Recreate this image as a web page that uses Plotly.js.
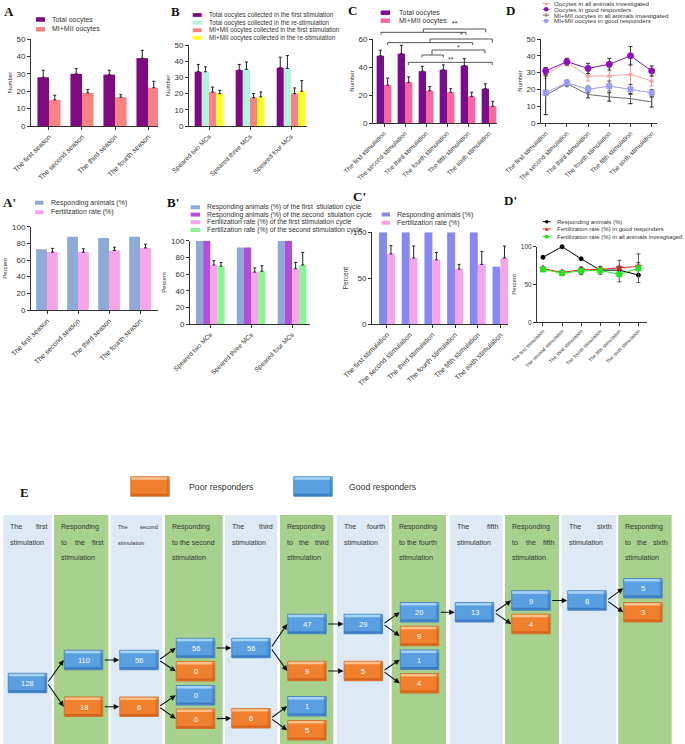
<!DOCTYPE html>
<html><head><meta charset="utf-8">
<script src="https://cdn.plot.ly/plotly-3.0.1.min.js"></script>
<style>html,body{margin:0;padding:0;background:#fff}#chart{width:685px;height:744px}</style>
</head><body><div id="chart"></div>
<script>
// ================= DATA =================
const seasons = ['The first season','The second season','The third season','The fourth season'];
const mcGroups = ['Speared two MCs','Speared three MCs','Speared four MCs'];
const stims = ['The first stimulation','The second stimulation','The third stimulation','The fourth stimulation','The fifth stimulation','The sixth stimulation'];

// Panel A
const aTotal = [28, 30, 29.5, 39];
const aTotalErr = [4, 3, 2.5, 4.5];
const aMII = [15, 19, 16.5, 22];
const aMIIErr = [2.7, 2, 1.5, 3.7];
// Panel B
const bTotal1 = [33.5, 34.5, 36];
const bTotal1Err = [4.5, 3.5, 6.5];
const bTotal2 = [33.5, 35, 35.5];
const bTotal2Err = [3, 4.5, 8];
const bMII1 = [21, 17.5, 20];
const bMII1Err = [3, 2.5, 3.5];
const bMII2 = [20, 18, 21.5];
const bMII2Err = [2, 3, 6.5];
// Panel C
const cTotal = [48, 49.5, 37, 38, 41, 24.5];
const cTotalErr = [4, 6, 3.5, 3.5, 5, 3.5];
const cMII = [27, 29, 23, 22, 19, 12];
const cMIIErr = [5, 4, 3, 2.5, 3, 3.5];
// Panel D
const dOocAll = [29, 36, 28, 28, 29, 25];
const dOocAllErr = [2.5, 2, 3, 5, 6, 3];
const dOocGood = [31, 36.5, 32.5, 35, 40, 31];
const dOocGoodErr = [2, 2, 3, 3.5, 5.5, 3];
const dMIIAll = [16.5, 23.5, 17, 15.5, 14.5, 12.5];
const dMIIAllErr = [11.5, 1.5, 2, 2.5, 3, 3];
const dMIIGood = [18, 24, 20, 22, 20, 18];
const dMIIGoodErr = [1.5, 1.5, 2, 3, 3, 2];
// Panel A'
const apResp = [73, 88, 86.5, 88];
const apFert = [69.5, 69.5, 71.5, 74.5];
const apFertErr = [4.5, 4, 4, 4.5];
// Panel B'
const bpResp1 = [100, 92, 100];
const bpResp2 = [100, 92, 100];
const bpFert1 = [71, 62.5, 66.5];
const bpFert1Err = [5, 5, 7.5];
const bpFert2 = [69.5, 63.5, 71];
const bpFert2Err = [4.5, 6.5, 15];
// Panel C'
const cpResp = [100, 100, 100, 100, 100, 62.5];
const cpFert = [76.5, 72, 70, 60, 65, 72];
const cpFertErr = [9, 13, 8, 5, 14, 13];
// Panel D'
const dpResp = [86, 100, 84, 69, 69, 62.5];
const dpFertGood = [71, 66, 69.5, 70, 72, 74];
const dpFertGoodErr = [2, 2, 3, 4, 10, 5];
const dpFertAll = [70, 65, 68, 68.5, 63.5, 71.5];
const dpFertAllErr = [3, 3, 5, 5, 10, 19];

// Panel E (flow of animals)
const flowValues = [128, 110, 18, 56, 6, 56, 0, 0, 6, 56, 6, 47, 9, 1, 5, 29, 5, 20, 9, 1, 4, 13, 9, 4, 8, 5, 3];
const flowTypes  = ['g','g','p','g','p','g','p','g','p','g','p','g','p','g','p','g','p','g','p','g','p','g','g','p','g','g','p'];
const flowLinks = [[0,1],[0,2],[1,3],[2,4],[3,5],[3,6],[4,7],[4,8],[5,9],[8,10],[9,11],[9,12],[10,13],[10,14],
                   [11,15],[12,16],[15,17],[15,18],[16,19],[16,20],[17,21],[21,22],[21,23],[22,24],[24,25],[24,26]];
const colHeaders = [
  ['The first','stimulation'], ['Responding','to the first','stimulation'],
  ['The second','stimulation'], ['Responding','to the second','stimulation'],
  ['The third','stimulation'], ['Responding','to the third','stimulation'],
  ['The fourth','stimulation'], ['Responding','to the fourth','stimulation'],
  ['The fifth','stimulation'], ['Responding','to the fifth','stimulation'],
  ['The sixth','stimulation'], ['Responding','to the sixth','stimulation']
];
const naturalLines = ['to the second', 'to the fourth'];

// ================= LAYOUT HELPERS =================
const W = 685, H = 744;
const F = 'Liberation Sans, Arial, sans-serif';
const FS = 'Liberation Serif, Times New Roman, serif';
const px = x => x / W, py = y => 1 - y / H;
const TXT = '#333';
const measureCtx = document.createElement('canvas').getContext('2d');
function textWidth(s, size) { measureCtx.font = size + 'px "Liberation Sans", Arial, sans-serif'; return measureCtx.measureText(s).width; }

const AX = {showline:true, linecolor:'#333', linewidth:1, ticks:'outside', ticklen:3, tickwidth:1, tickcolor:'#333',
  showgrid:false, zeroline:false, fixedrange:true, automargin:false};
function xAxis(x0, x1, range, anchor, fs) {
  return Object.assign({}, AX, {domain:[px(x0), px(x1)], range, type:'category', tickangle:-45,
    tickfont:{family:F, size:fs, color:TXT}, anchor});
}
function yAxis(top, bottom, range, dtick, title, anchor, fs, tfs) {
  return Object.assign({}, AX, {domain:[py(bottom), py(top)], range, dtick, tick0:0,
    tickfont:{family:F, size:fs, color:TXT},
    title:{text:title, font:{family:F, size:tfs, color:TXT}, standoff:3}, anchor});
}

const traces = [];
function bar(x, y, err, color, xa, ya) {
  const t = {type:'bar', x, y, xaxis:xa, yaxis:ya, marker:{color, line:{width:0}}, showlegend:false, hoverinfo:'skip'};
  if (err) t.error_y = {type:'data', symmetric:false, array:err, arrayminus:err.map(() => 0), color:'#222', thickness:1, width:1.5};
  traces.push(t);
}
function line(x, y, err, color, symbol, size, xa, ya, errColor) {
  const t = {type:'scatter', mode:'lines+markers', x, y, xaxis:xa, yaxis:ya, line:{color, width:1},
    marker:{color, symbol, size, line:{color, width:1}}, showlegend:false, hoverinfo:'skip', cliponaxis:false};
  if (err) t.error_y = {type:'data', array:err, color:errColor || color, thickness:1, width:2};
  traces.push(t);
}

// ----- charts -----
const PURPLE = '#7F0A80', SALMON = '#F98282';
bar(seasons, aTotal, aTotalErr, PURPLE, 'x', 'y');
bar(seasons, aMII, aMIIErr, SALMON, 'x', 'y');

bar(mcGroups, bTotal1, bTotal1Err, PURPLE, 'x2', 'y2');
bar(mcGroups, bTotal2, bTotal2Err, '#B2F4E0', 'x2', 'y2');
bar(mcGroups, bMII1, bMII1Err, SALMON, 'x2', 'y2');
bar(mcGroups, bMII2, bMII2Err, '#FFFF22', 'x2', 'y2');

bar(stims, cTotal, cTotalErr, '#7A0C8E', 'x3', 'y3');
bar(stims, cMII, cMIIErr, '#F5689E', 'x3', 'y3');

line(stims, dOocAll, dOocAllErr, '#F4A3A3', 'triangle-up', 4, 'x4', 'y4', '#E89090');
line(stims, dOocGood, dOocGoodErr, '#8A12B8', 'circle', 6, 'x4', 'y4', '#333');
line(stims, dMIIAll, dMIIAllErr, '#6E6E6E', 'line-ns-open', 6, 'x4', 'y4', '#222');
line(stims, dMIIGood, dMIIGoodErr, '#9C9CF2', 'square', 5, 'x4', 'y4', '#555');

bar(seasons, apResp, null, '#8FAAD6', 'x5', 'y5');
bar(seasons, apFert, apFertErr, '#F6A6E8', 'x5', 'y5');

bar(mcGroups, bpResp1, null, '#8FAAD6', 'x6', 'y6');
bar(mcGroups, bpResp2, null, '#B14FDC', 'x6', 'y6');
bar(mcGroups, bpFert1, bpFert1Err, '#F6A6E8', 'x6', 'y6');
bar(mcGroups, bpFert2, bpFert2Err, '#8EF296', 'x6', 'y6');

bar(stims, cpResp, null, '#8888F2', 'x7', 'y7');
bar(stims, cpFert, cpFertErr, '#F6A6E8', 'x7', 'y7');

line(stims, dpResp, null, '#000000', 'circle', 4, 'x8', 'y8');
line(stims, dpFertGood, dpFertGoodErr, '#E52222', 'star', 5, 'x8', 'y8', '#555');
line(stims, dpFertAll, dpFertAllErr, '#22E522', 'square', 5, 'x8', 'y8', '#555');

// ----- shapes & annotations -----
const shapes = [], annotations = [];
function rect(x0, y0, x1, y1, color, lineColor, lw) {
  shapes.push({type:'rect', xref:'paper', yref:'paper', x0:px(x0), x1:px(x1), y0:py(y1), y1:py(y0),
    fillcolor:color, line:{width:lw || 0, color:lineColor || color}, layer:'below'});
}
function seg(x0, y0, x1, y1, color, w) {
  shapes.push({type:'line', xref:'paper', yref:'paper', x0:px(x0), x1:px(x1), y0:py(y0), y1:py(y1),
    line:{color:color || '#333', width:w || 1}});
}
function txt(x, y, text, size, opts) {
  annotations.push(Object.assign({xref:'paper', yref:'paper', x:px(x), y:py(y), text, showarrow:false,
    xanchor:'left', yanchor:'middle', font:{family:F, size, color:TXT}}, opts || {}));
}
function letter(x, y, t) { txt(x, y, t, 13, {xanchor:'center', font:{family:FS, size:13, color:'#111', weight:'bold'}}); }
function legBar(x0, x1, y, h, color, label, fs, tx) {
  rect(x0, y - h / 2, x1, y + h / 2, color);
  txt(tx, y, label, fs);
}
function legLine(x0, x1, y, color, symbol, size, label, fs, tx) {
  seg(x0, y, x1, y, color, 1);
  const c = (x0 + x1) / 2, s = size / 2;
  if (symbol === 'circle') shapes.push({type:'circle', xref:'paper', yref:'paper', x0:px(c - s), x1:px(c + s), y0:py(y + s), y1:py(y - s), fillcolor:color, line:{width:0}});
  else if (symbol === 'square') rect(c - s, y - s, c + s, y + s, color);
  else if (symbol === 'tri') shapes.push({type:'path', xref:'paper', yref:'paper', path:`M${px(c - s)},${py(y + s)} L${px(c + s)},${py(y + s)} L${px(c)},${py(y - s)} Z`, fillcolor:color, line:{width:0}});
  else if (symbol === 'tick') seg(c, y - s, c, y + s, color, 1);
  txt(tx, y, label, fs);
}

// panel letters
letter(8.5, 12, 'A'); letter(175.5, 12, 'B'); letter(352.5, 11, 'C'); letter(510, 11, 'D');
letter(9.5, 202.5, "A'"); letter(173, 202.5, "B'"); letter(359.5, 196.5, "C'"); letter(510, 200, "D'");
letter(25, 492, 'E');

// legends row 1
legBar(36, 45, 19.5, 4.5, PURPLE, 'Total oocytes', 7, 50);
legBar(36, 45, 29.3, 4.5, SALMON, 'MI+MII oocytes', 7, 50);

legBar(192.7, 201.7, 15, 3.8, PURPLE, 'Total oocytes collected in the first stimulation', 6.3, 206.5);
legBar(192.7, 201.7, 22.7, 3.8, '#B2F4E0', 'Total oocytes collected in the re-stimulation', 6.3, 206.5);
legBar(192.7, 201.7, 30.3, 3.8, SALMON, 'MI+MII oocytes collected in the first stimulation', 6.3, 206.5);
legBar(192.7, 201.7, 37.8, 3.8, '#FFFF22', 'MI+MII oocytes collected in the re-stimulation', 6.3, 206.5);

legBar(380.7, 390, 12.7, 4.5, '#7A0C8E', 'Total oocytes', 7, 396.5);
legBar(380.7, 390, 20.7, 4.5, '#F5689E', 'MI+MII oocytes', 7, 396.5);

legLine(542.7, 549.5, 3.4, '#F4A3A3', 'tri', 3.5, 'Oocytes in all animals investigated', 6.2, 551.5);
legLine(542.7, 549.5, 9.3, '#8A12B8', 'circle', 4.5, 'Oocytes in good responders', 6.2, 551.5);
legLine(542.7, 549.5, 15.1, '#6E6E6E', 'tick', 4, 'MI+MII oocytes in all animals investigated', 6.2, 551.5);
legLine(542.7, 549.5, 20.9, '#9C9CF2', 'square', 3.8, 'MI+MII oocytes in good responders', 6.2, 551.5);

// legends row 2
legBar(35, 43.5, 202.7, 4, '#8FAAD6', 'Responding animals (%)', 7, 48.5);
legBar(35, 43.5, 212.3, 4, '#F6A6E8', 'Fertilization rate (%)', 7, 48.5);

legBar(190.7, 200, 207.3, 4, '#8FAAD6', 'Responding animals (%) of the first  stiulation cycle', 6.8, 205);
legBar(190.7, 200, 214.6, 4, '#B14FDC', 'Responding animals (%) of the second  stiulation cycle', 6.8, 205);
legBar(190.7, 200, 222.2, 4, '#F6A6E8', 'Fertilization rate (%) of the first stimulation cycle', 6.8, 205);
legBar(190.7, 200, 230, 4, '#8EF296', 'Fertilization rate (%) of the second stimulation cycle', 6.8, 205);

legBar(381.7, 390, 214.5, 4, '#8888F2', 'Responding animals (%)', 7, 395);
legBar(381.7, 390, 222.7, 4, '#F6A6E8', 'Fertilization rate (%)', 7, 395);

legLine(542.7, 550.7, 221.7, '#000000', 'circle', 3.5, 'Responding animals (%)', 6, 555);
legLine(542.7, 550.7, 229, '#E52222', 'tri', 3.5, 'Fertilization rate (%) in good responders', 6, 555);
legLine(542.7, 550.7, 236.7, '#22E522', 'square', 3.5, 'Fertilization rate (%) in all animals invesgitaged', 6, 555);

// significance brackets in panel C (zoom coords -> page px)
const bz = (zx, zy) => [340 + zx / 3, zy / 3];
function bracket(segs, lab, lx, ly) {
  segs.forEach(s => { const a = bz(s[0], s[1]), b = bz(s[2], s[3]); seg(a[0], a[1], b[0], b[1], '#444', 0.9); });
  const p = bz(lx, ly); txt(p[0], p[1], lab, 7, {xanchor:'center'});
}
bracket([[123,97,378,97],[123,97,123,104],[378,97,378,104],[250,97,250,87],[250,87,437,87],[437,87,437,97]], '**', 345, 72);
bracket([[143,128,398,128],[143,128,143,135],[398,128,398,135],[270,128,270,117],[270,117,457,117],[457,117,457,128]], '*', 365, 103);
bracket([[246,165,310,165],[246,165,246,172],[310,165,310,172],[276,165,276,150],[276,150,435,150],[435,150,435,160]], '*', 355, 142);
bracket([[205,187,457,187],[205,187,205,195],[457,187,457,195]], '**', 333, 177);

// ----- Panel E -----
const colX = [[3.3,51.7],[54,108.3],[110.7,162.3],[165,222.7],[225,277.3],[280,333.3],
              [336.7,389.3],[391.7,446],[450,502.7],[505,559],[561.7,616],[618.3,671.7]];
colX.forEach((c, i) => rect(c[0], 515, c[1], 744, i % 2 ? '#A9D18E' : '#DEE9F6'));
const lineY = [527.3, 542.7, 558.3];
colHeaders.forEach((lines, i) => {
  const fs = i === 2 ? 5.5 : 7.1;
  const xl = colX[i][0] + 6, xr = colX[i][1] - 5.5;
  const hf = {family:F, size:fs, color:'#333'};
  lines.forEach((ln, j) => {
    const words = ln.split(' ');
    const justify = words.length > 1 && naturalLines.indexOf(ln) < 0;
    if (!justify) { txt(xl, lineY[j], ln, fs, {font:hf, borderpad:0}); return; }
    const widths = words.map(w => textWidth(w, fs));
    const total = widths.reduce((a, b) => a + b, 0);
    const gap = Math.max((xr - xl - total) / (words.length - 1), textWidth(' ', fs));
    let x = xl;
    words.forEach((w, k) => { txt(x, lineY[j], w, fs, {font:hf, borderpad:0}); x += widths[k] + gap; });
  });
});

const BW = 38.5, BH = 19.5;
const STY = {g:{top:'#A8D5F7', body:'#5A9FDF', bot:'#3C7DC2', edge:'#3A7AC0'},
             p:{top:'#FBC28E', body:'#F07F2E', bot:'#D2651C', edge:'#D0661E'}};
function box(cx, cy, t, label) {
  const s = STY[t];
  const x0 = cx - BW / 2, x1 = cx + BW / 2, y0 = cy - BH / 2, y1 = cy + BH / 2;
  shapes.push({type:'rect', xref:'paper', yref:'paper', x0:px(x0), x1:px(x1), y0:py(y1), y1:py(y0), fillcolor:s.body, line:{width:0.8, color:s.edge}});
  shapes.push({type:'rect', xref:'paper', yref:'paper', x0:px(x0 + 0.5), x1:px(x1 - 0.5), y0:py(y0 + 3), y1:py(y0 + 0.5), fillcolor:s.top, line:{width:0}});
  shapes.push({type:'rect', xref:'paper', yref:'paper', x0:px(x0 + 0.5), x1:px(x1 - 0.5), y0:py(y1 - 0.5), y1:py(y1 - 2.5), fillcolor:s.bot, line:{width:0}});
  shapes.push({type:'rect', xref:'paper', yref:'paper', x0:px(x1 - 2.5), x1:px(x1 - 0.5), y0:py(y1 - 0.5), y1:py(y0 + 0.5), fillcolor:s.bot, line:{width:0}, opacity:0.7});
  if (label !== null) txt(cx, cy + 0.5, label, 7.5, {xanchor:'center', font:{family:F, size:7.5, color:'#FFFFFF'}});
}
// node positions (page px): layout of the flow diagram
const nodePos = [[27.5,683],[83.5,660],[83.5,706.7],[139,660],[139,706.7],[195.5,648],[195.5,671.3],[195.5,695.3],[195.5,718.7],
  [251,648],[251,718.3],[307,624],[307,671],[307,706.3],[307,730.3],[363.3,624],[363.3,671],
  [419.5,612.3],[419.5,636],[419.5,659.7],[419.5,683.3],[474.5,612.3],[531,600.5],[531,624],[587,600.5],[643,588.3],[643,612.3]];
flowValues.forEach((v, i) => box(nodePos[i][0], nodePos[i][1], flowTypes[i], String(v)));
flowLinks.forEach(([a, b]) => {
  const sx = nodePos[a][0] + BW / 2 + 0.5, sy = nodePos[a][1];
  const tx = nodePos[b][0] - BW / 2 - 0.5, ty = nodePos[b][1];
  annotations.push({xref:'paper', yref:'paper', x:px(tx), y:py(ty), ax:sx - tx, ay:sy - ty, axref:'pixel', ayref:'pixel',
    text:'', showarrow:true, arrowhead:2, arrowsize:1, arrowwidth:1.1, arrowcolor:'#111', standoff:0, startstandoff:0});
});
// legend of panel E
box(150, 486.5, 'p', null);
box(313, 486.5, 'g', null);
txt(221.7, 487, 'Poor responders', 8.7, {xanchor:'center', font:{family:F, size:8.7, color:'#333'}});
txt(347.3, 487, 'Good responders', 8.7, {font:{family:F, size:8.7, color:'#333'}});

const layout = {
  width: W, height: H, margin:{l:0, r:0, t:0, b:0}, paper_bgcolor:'#fff', plot_bgcolor:'rgba(0,0,0,0)',
  showlegend:false, barmode:'group', bargap:0.3, bargroupgap:0, hovermode:false,
  font:{family:F, color:TXT},
  xaxis: xAxis(31, 158, [-0.545, 3.303], 'y', 7),
  yaxis: yAxis(39, 126, [0, 50], 10, 'Number', 'x', 8, 6),
  xaxis2: xAxis(189, 307, [-0.488, 2.39], 'y2', 6.5),
  yaxis2: yAxis(45, 126, [0, 50], 10, 'Number', 'x2', 8, 6),
  xaxis3: xAxis(373, 497, [-0.524, 5.38], 'y3', 6.5),
  yaxis3: yAxis(39, 123, [0, 60], 20, 'Number', 'x3', 8, 6),
  xaxis4: xAxis(541, 657, [-0.22, 5.25], 'y4', 6.5),
  yaxis4: yAxis(39, 123, [0, 50], 10, 'Number', 'x4', 8, 6),
  xaxis5: xAxis(31, 158, [-0.516, 3.58], 'y5', 7),
  yaxis5: yAxis(226.7, 310, [0, 100], 20, 'Percent', 'x5', 8, 6),
  xaxis6: xAxis(190, 310, [-0.497, 2.44], 'y6', 6.5),
  yaxis6: yAxis(240.7, 324.3, [0, 100], 20, 'Percent', 'x6', 8, 6),
  xaxis7: xAxis(372, 508, [-0.66, 5.33], 'y7', 7),
  yaxis7: yAxis(232.3, 324, [0, 100], 50, 'Percent', 'x7', 8, 6.5),
  xaxis8: xAxis(537, 647, [-0.314, 5.45], 'y8', 5),
  yaxis8: yAxis(246.7, 322.3, [0, 100], 50, 'Percent', 'x8', 6.5, 6),
  shapes, annotations
};
Plotly.newPlot('chart', traces, layout, {staticPlot:true, displayModeBar:false});
</script></body></html>
